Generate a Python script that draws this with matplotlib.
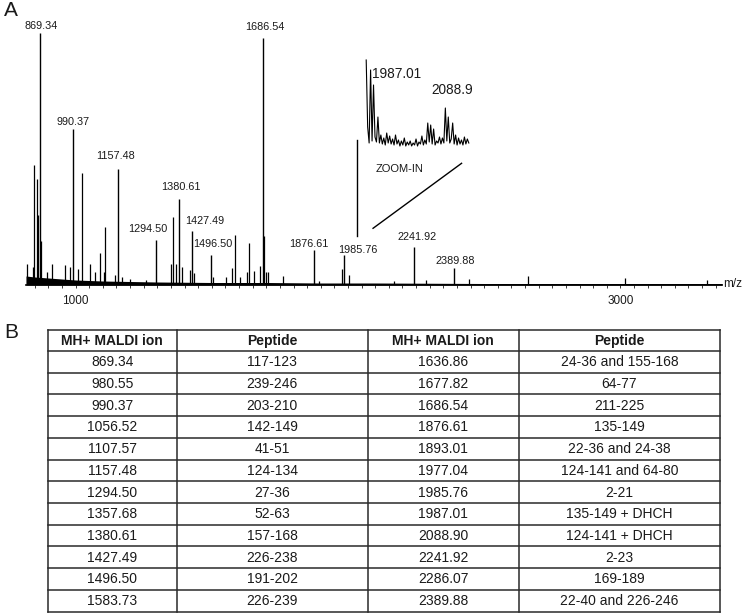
import matplotlib
matplotlib.use('Agg')
import matplotlib.pyplot as plt
from matplotlib.ticker import MultipleLocator

plt.rcParams['font.family'] = ['Liberation Sans', 'DejaVu Sans']

# ---------------- data ----------------
labeled_mz = [869.34, 990.37, 1157.48, 1294.50, 1380.61, 1427.49, 1496.50,
              1686.54, 1876.61, 1985.76, 2241.92, 2389.88]
labeled_int = [252, 156, 116, 45, 86, 54, 30, 247, 35, 30, 38, 17]
labeled_txt = ["869.34", "990.37", "1157.48", "1294.50", "1380.61", "1427.49",
               "1496.50", "1686.54", "1876.61", "1985.76", "2241.92", "2389.88"]

other_mz = [822, 842, 847, 858, 862, 874, 895, 913, 960, 980.55,
            1010, 1024, 1054, 1071, 1090, 1103, 1107.57, 1145, 1170, 1200,
            1260, 1352, 1357.68, 1367, 1389, 1420, 1434, 1504, 1553, 1576,
            1583.73, 1604, 1629, 1636.86, 1654, 1677.82, 1691, 1700, 1706, 1762,
            1893.01, 1977.04, 2002, 2170, 2286.07, 2445, 2660, 3018, 3318]
other_int = [21, 18, 120, 106, 70, 44, 13, 21, 20, 18,
             16, 112, 21, 13, 32, 13, 58, 10, 8, 6,
             5, 21, 68, 21, 18, 15, 12, 8, 8, 17,
             50, 8, 13, 42, 14, 19, 49, 13, 13, 9,
             4, 16, 10, 4, 5, 6, 9, 7, 5]

band_mz = [818, 850, 900, 950, 1000, 1100, 1200, 1300, 1500, 1700, 1900, 2100, 2500, 3000, 3373]
band_level = [9, 8, 7, 6, 5, 4, 3.5, 3, 2.5, 2.5, 2, 2, 1.5, 1.5, 1.5]

zoom_mz = [1981 + 2 * i for i in range(71)]
zoom_int = [87, 20, 4, 77, 6, 62, 10, 5, 30, 4,
            12, 3, 9, 2, 14, 4, 11, 3, 8, 2,
            12, 3, 7, 1, 6, 2, 9, 1, 5, 2,
            6, 1, 4, 2, 8, 1, 5, 3, 11, 2,
            7, 3, 24, 5, 22, 3, 18, 2, 6, 4,
            10, 3, 9, 4, 39, 6, 30, 4, 8, 24,
            3, 12, 2, 9, 3, 7, 2, 10, 3, 8, 4]

col_headers = ["MH+ MALDI ion", "Peptide", "MH+ MALDI ion", "Peptide"]
ion_left = ["869.34", "980.55", "990.37", "1056.52", "1107.57", "1157.48",
            "1294.50", "1357.68", "1380.61", "1427.49", "1496.50", "1583.73"]
pep_left = ["117-123", "239-246", "203-210", "142-149", "41-51", "124-134",
            "27-36", "52-63", "157-168", "226-238", "191-202", "226-239"]
ion_right = ["1636.86", "1677.82", "1686.54", "1876.61", "1893.01", "1977.04",
             "1985.76", "1987.01", "2088.90", "2241.92", "2286.07", "2389.88"]
pep_right = ["24-36 and 155-168", "64-77", "211-225", "135-149", "22-36 and 24-38",
             "124-141 and 64-80", "2-21", "135-149 + DHCH", "124-141 + DHCH",
             "2-23", "169-189", "22-40 and 226-246"]

# ---------------- layout helpers ----------------
W, H = 745, 613
fig = plt.figure(figsize=(W / 100, H / 100), dpi=100)


def rect(x0, y0, x1, y1):
    return [x0 / W, 1 - y1 / H, (x1 - x0) / W, (y1 - y0) / H]


PX = 0.72  # points per pixel

# ---------------- table (overlay axes in pixel coords) ----------------
axt = fig.add_axes([0, 0, 1, 1])
axt.set_xlim(0, W)
axt.set_ylim(H, 0)
axt.axis('off')

col_x = [47.7, 176.7, 367.5, 519, 720]
top_y = 329.5
head_y = 351.0
n_rows = len(ion_left)
row_h = (611.5 - head_y) / n_rows
row_y = [head_y + i * row_h for i in range(n_rows + 1)]

lc = '#2a2a2a'
for x in col_x:
    axt.plot([x, x], [top_y, row_y[-1]], color=lc, lw=1.1, solid_capstyle='projecting')
for y in [top_y] + row_y:
    axt.plot([col_x[0], col_x[-1]], [y, y], color=lc, lw=1.1, solid_capstyle='projecting')

for j, h in enumerate(col_headers):
    axt.text((col_x[j] + col_x[j + 1]) / 2, (top_y + head_y) / 2 + 0.5, h,
             ha='center', va='center', fontsize=10, fontweight='bold', color='#1a1a1a')

cols = [ion_left, pep_left, ion_right, pep_right]
for j, col in enumerate(cols):
    cx = (col_x[j] + col_x[j + 1]) / 2
    for i, t in enumerate(col):
        cy = (row_y[i] + row_y[i + 1]) / 2
        axt.text(cx, cy + 0.5, t, ha='center', va='center', fontsize=10, color='#1a1a1a')

axt.text(4, 323, "B", ha='left', va='top', fontsize=15, color='#1a1a1a')
axt.text(4, 1, "A", ha='left', va='top', fontsize=15, color='#1a1a1a')
axt.text(723, 284, "m/z", ha='left', va='center', fontsize=8.5, color='#1a1a1a')

# ---------------- spectrum ----------------
ax = fig.add_axes(rect(26, 20, 722, 285))
ax.patch.set_alpha(0)
ax.set_xlim(818, 3373)
ax.set_ylim(0, 265)
for s in ['left', 'right', 'top']:
    ax.spines[s].set_visible(False)
ax.spines['bottom'].set_linewidth(1.2)
ax.set_yticks([])
ax.set_xticks([1000, 3000])
ax.set_xticklabels(["1000", "3000"])
ax.xaxis.set_minor_locator(MultipleLocator(50))
ax.tick_params(axis='x', which='both', direction='out', length=2.5, width=0.6,
               pad=4.5, labelsize=8.5, colors='#1a1a1a')

ax.fill_between(band_mz, 0, band_level, color='black', lw=0)
ax.vlines(other_mz, 0, other_int, color='black', lw=0.9)
ax.vlines(labeled_mz, 0, labeled_int, color='black', lw=1.0)

label_dx = [1.5, -0.3, -3.3, -7.7, 1.7, 12.5, 1.5, 2.3, -5.3, 13.7, 2.7, 0.7]
label_gap = [4, 3.6, 10, 8.3, 8.6, 7.4, 8.3, 8.3, 3.3, 1.7, 6.7, 4.4]
for mz, inten, t, dx, gap in zip(labeled_mz, labeled_int, labeled_txt, label_dx, label_gap):
    ax.annotate(t, xy=(mz, inten), xytext=(dx * PX, gap * PX), textcoords='offset points',
                ha='center', va='baseline', fontsize=7.8, color='#1a1a1a',
                annotation_clip=False)

# zoom-in guide lines
ax.plot([2034, 2034], [49, 145], color='black', lw=1.0)
ax.plot([2092, 2417], [56.7, 121.7], color='black', lw=1.0)
ax.text(2190, 115.7, "ZOOM-IN", ha='center', va='center', fontsize=8, color='#1a1a1a')

# ---------------- inset ----------------
axi = fig.add_axes(rect(364, 58, 471, 148))
axi.patch.set_alpha(0)
axi.set_xlim(1978, 2124)
axi.set_ylim(-1, 89)
axi.axis('off')
axi.plot(zoom_mz, zoom_int, color='black', lw=0.8)
axi.text(1988.5, 69, "1987.01", ha='left', va='baseline', fontsize=9.8, color='#1a1a1a', clip_on=False)
axi.text(2069.8, 52.7, "2088.9", ha='left', va='baseline', fontsize=9.8, color='#1a1a1a', clip_on=False)

fig.savefig('out.png', dpi=100)
